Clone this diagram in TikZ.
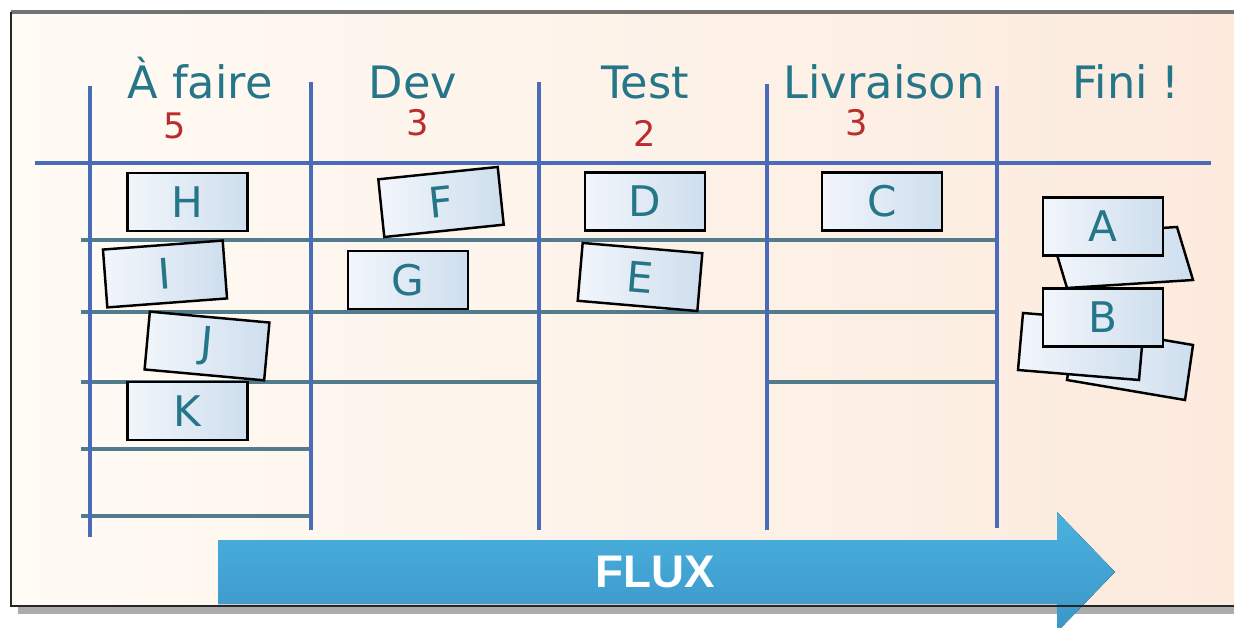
\documentclass[tikz,border=0pt]{standalone}
\usepackage{fontspec}
\setmainfont{DejaVu Sans}
\newfontfamily\fluxfont{Liberation Sans}
\definecolor{gridblue}{RGB}{74,108,184}
\definecolor{rowline}{RGB}{82,124,140}
\definecolor{headteal}{RGB}{38,118,138}
\definecolor{wipred}{RGB}{185,45,45}
\definecolor{cardwhite}{RGB}{242,246,251}
\definecolor{cardblue}{RGB}{206,222,238}
\definecolor{fluxblue}{RGB}{74,178,224}
\definecolor{fluxdark}{RGB}{60,150,198}
\definecolor{bgpeach}{RGB}{252,234,221}
\definecolor{bgcream}{RGB}{255,251,245}
\begin{document}
\begin{tikzpicture}[x=0.01cm,y=-0.01cm,
    card/.style={draw,line width=0.7pt,minimum width=1.2cm,minimum height=0.58cm,
      inner sep=0pt,left color=cardwhite,right color=cardblue,text=headteal,
      font=\fontsize{12}{12}\selectfont},
    backcard/.style={draw,line width=0.7pt,left color=cardwhite,right color=cardblue},
    colhead/.style={anchor=base,text=headteal,font=\fontsize{12.7}{13}\selectfont},
    wip/.style={anchor=base,text=wipred,font=\fontsize{10}{10}\selectfont},
    lane/.style={gridblue,line width=1.4pt},
    row/.style={rowline,line width=1pt}]
  \useasboundingbox (0,0) rectangle (1234,628);
  \clip (0,0) rectangle (1234,628);
  % board background
  \fill[white] (0,0) rectangle (1234,628);
  \fill[left color=bgcream,right color=bgpeach] (11,12) rectangle (1234,606);
  \fill[gray!65] (18,606) rectangle (1234,614);
  % rows
  \draw[row] (81,240) -- (997,240);
  \draw[row] (81,312) -- (997,312);
  \draw[row] (81,382) -- (539,382);
  \draw[row] (767,382) -- (997,382);
  \draw[row] (81,449) -- (311,449);
  \draw[row] (81,516) -- (311,516);
  % columns
  \draw[lane] (35,163) -- (1211,163);
  \foreach \x/\top/\bot in {90/86/537, 311/82/530, 539/82/530, 767/84/530, 997/86/528}
    \draw[lane] (\x,\top) -- (\x,\bot);
  % column titles and limits
  \node[colhead] (todo) at (200,99) {À faire};
  \node[colhead] (dev) at (413,99) {Dev};
  \node[colhead] (test) at (645,99) {Test};
  \node[colhead] (livr) at (884,99) {Livraison};
  \node[colhead] (done) at (1126,99) {Fini !};
  \node[wip] (todowip) at (175,139) {5};
  \node[wip] (devwip) at (418,136) {3};
  \node[wip] (testwip) at (645,147) {2};
  \node[wip] (livrwip) at (857,136) {3};
  % cards
  \node[card] (H) at (187.5,202) {H};
  \node[card,rotate=4.3] (I) at (165,274) {I};
  \node[card,rotate=-5.2] (J) at (207,346) {J};
  \node[card] (K) at (187.5,411) {K};
  \node[card,rotate=5.9] (F) at (441,202) {F};
  \node[card] (G) at (408,280) {G};
  \node[card] (D) at (645,201.5) {D};
  \node[card,rotate=-4.9] (E) at (640,277) {E};
  \node[card] (C) at (882,201.5) {C};
  % finished pile
  \draw[backcard] (1051,235) -- (1177,227) -- (1193,280) -- (1067,288) -- cycle;
  \node[card] (A) at (1103,226.5) {A};
  \draw[backcard] (1075,325) -- (1193,345) -- (1185,400) -- (1067,380) -- cycle;
  \draw[backcard] (1023,313) -- (1144,323) -- (1139,380) -- (1018,370) -- cycle;
  \node[card] (B) at (1103,317.5) {B};
  % flow arrow
  \fill[top color=fluxblue,bottom color=fluxdark]
    (218,540) -- (1057,540) -- (1057,512) -- (1115,572) -- (1057,632) -- (1057,604) -- (218,604) -- cycle;
  \node[text=white,font=\fluxfont\bfseries\fontsize{13}{13}\selectfont] (flux) at (655,572) {FLUX};
  % frame
  \draw[gray!90!black,line width=0.9pt] (11,12) -- (1234,12);
  \draw[black!85,line width=0.8pt] (11,12) -- (11,606) -- (1234,606);
\end{tikzpicture}
\end{document}
